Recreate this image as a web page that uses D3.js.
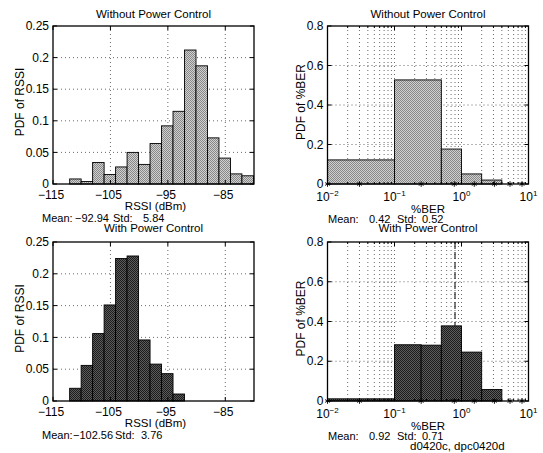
<!DOCTYPE html>
<html>
<head>
<meta charset="utf-8">
<title>RSSI and BER histograms</title>
<script src="https://cdn.jsdelivr.net/npm/d3@7"></script>
<style>
  body { margin: 0; background: #fff; }
  text { font-family: "Liberation Sans", Arial, Helvetica, sans-serif; fill: #000; }
  .grid { stroke: #444; stroke-width: 0.8; stroke-dasharray: 1,3; }
</style>
</head>
<body>
<svg width="543" height="453"></svg>
<script>

// RSSI histograms: bin centres (dBm) and PDF per bin
var rssiCentres = [-111.1, -109.1, -107.1, -105.1, -103.1, -101.1, -99.1, -97.1,
                   -95.1, -93.1, -91.1, -89.1, -87.1, -85.1, -83.1, -81.1];
var rssiBinWidth = 2;
var rssiNoPC = [0.008, 0.004, 0.034, 0.015, 0.027, 0.050, 0.031, 0.064,
                0.092, 0.115, 0.212, 0.187, 0.073, 0.041, 0.016, 0.013];
var rssiPC = [0.020, 0.056, 0.106, 0.151, 0.224, 0.228, 0.096, 0.058, 0.043, 0.011];
var rssiXTicks = [-115, -105, -95, -85];
var rssiYTicks = [0, 0.05, 0.1, 0.15, 0.2, 0.25];

// %BER histograms: bin edges (log x) and PDF per bin
var berEdgesNoPC = [0.01, 0.1, 0.5, 1, 2, 4];
var berNoPC = [0.122, 0.527, 0.177, 0.051, 0.020];
var berEdgesPC = [0.01, 0.1, 0.25, 0.5, 1, 2, 4];
var berPC = [0.011, 0.283, 0.281, 0.378, 0.246, 0.058];
var berStars = [0.01, 0.03, 0.25, 0.78, 1.55, 3.1, 5.3, 8];
var berXTicks = [-2, -1, 0, 1];          // exponents of 10
var berYTicks = [0, 0.2, 0.4, 0.6, 0.8];
var berMarkPC = 0.8;                       // dashed marker line, with PC

var titles = ["Without Power Control", "With Power Control"];
var rssiStats = [["\u221292.94", "5.84"], ["\u2212102.56", "3.76"]];
var berStats = [["0.42", "0.52"], ["0.92", "0.71"]];
var fileNote = "d0420c, dpc0420d";

var svg = d3.select("svg");
var defs = svg.append("defs");

function stipple(id, base, dot) {
  var p = defs.append("pattern").attr("id", id)
      .attr("width", 2).attr("height", 2).attr("patternUnits", "userSpaceOnUse");
  p.append("rect").attr("width", 2).attr("height", 2).attr("fill", base);
  p.append("rect").attr("width", 1).attr("height", 1).attr("fill", dot);
  p.append("rect").attr("x", 1).attr("y", 1).attr("width", 1).attr("height", 1).attr("fill", dot);
}
stipple("light", "#d0d0d0", "#888888");
stipple("dark", "#5c5c5c", "#1c1c1c");

var LX = [53, 254], RX = [327.5, 528.5];
var rows = [[26, 184], [242, 401]];
var fills = ["url(#light)", "url(#dark)"];

function frame(g, xr, yr) {
  g.append("rect")
      .attr("x", xr[0]).attr("y", yr[0])
      .attr("width", xr[1] - xr[0]).attr("height", yr[1] - yr[0])
      .attr("fill", "none").attr("stroke", "#000").attr("stroke-width", 1.3);
}

function yAxis(g, y, ticks, xr, fmt) {
  g.selectAll(".ytl").data(ticks).enter().append("text")
      .attr("x", xr[0] - 4).attr("y", function(d) { return y(d); })
      .attr("dy", "0.35em").attr("text-anchor", "end")
      .style("font-size", "12px").text(fmt);
  [xr[0], xr[1]].forEach(function(x0, k) {
    g.selectAll(null).data(ticks).enter().append("line")
        .attr("x1", x0).attr("x2", x0 + (k ? -4 : 4))
        .attr("y1", function(d) { return y(d); }).attr("y2", function(d) { return y(d); })
        .attr("stroke", "#000");
  });
}

function labels(g, xr, yr, ylab, ycx, title) {
  var cx = (xr[0] + xr[1]) / 2;
  g.append("text").attr("x", cx).attr("y", yr[0] - (yr[0] > 100 ? 10 : 8))
      .attr("text-anchor", "middle").style("font-size", "11.5px").text(title);
  g.append("text")
      .attr("transform", "translate(" + ycx + "," + ((yr[0] + yr[1]) / 2 - 3) + ") rotate(-90)")
      .attr("text-anchor", "middle").style("font-size", "12px").text(ylab);
}

function stats(g, x, yb, parts, offs) {
  var t = g.append("text").attr("y", yb).style("font-size", "11px");
  ["Mean:", parts[0], "Std:", parts[1]].forEach(function(s, i) {
    t.append("tspan").attr("x", x + offs[i]).text(s);
  });
}

var rssiStatOffs = [[0, 33, 71, 101], [0, 31, 73, 99]];

// ---------- RSSI panels ----------
[rssiNoPC, rssiPC].forEach(function(vals, r) {
  var yr = rows[r];
  var g = svg.append("g");
  var x = d3.scaleLinear().domain([-115, -80]).range(LX);
  var y = d3.scaleLinear().domain([0, 0.25]).range([yr[1], yr[0]]);

  g.selectAll(".vg").data(rssiXTicks.slice(1)).enter().append("line").attr("class", "grid")
      .attr("x1", x).attr("x2", x).attr("y1", yr[0]).attr("y2", yr[1]);
  g.selectAll(".hg").data(rssiYTicks.slice(1, -1)).enter().append("line").attr("class", "grid")
      .attr("x1", LX[0]).attr("x2", LX[1]).attr("y1", y).attr("y2", y);

  g.selectAll(".bar").data(vals).enter().append("rect")
      .attr("x", function(d, i) { return x(rssiCentres[i] - rssiBinWidth / 2); })
      .attr("width", function(d, i) { return x(rssiCentres[i] + rssiBinWidth / 2) - x(rssiCentres[i] - rssiBinWidth / 2); })
      .attr("y", y)
      .attr("height", function(d) { return y(0) - y(d); })
      .attr("fill", fills[r]).attr("stroke", "#000").attr("stroke-width", 0.9);

  frame(g, LX, yr);

  // x ticks (inward, top and bottom) and labels
  [yr[1], yr[0]].forEach(function(y0, k) {
    g.selectAll(null).data(rssiXTicks).enter().append("line")
        .attr("x1", x).attr("x2", x).attr("y1", y0).attr("y2", y0 + (k ? 4 : -4))
        .attr("stroke", "#000");
  });
  g.selectAll(".xtl").data(rssiXTicks).enter().append("text")
      .attr("x", function(d) { return x(d) - 2; }).attr("y", yr[1] + 15)
      .attr("text-anchor", "middle").style("font-size", "12px")
      .text(d3.format("d"));

  yAxis(g, y, rssiYTicks, LX, d3.format("~g"));
  labels(g, LX, yr, "PDF of RSSI", 24, titles[r]);

  g.append("text").attr("x", (LX[0] + LX[1]) / 2 + 2).attr("y", yr[1] + 26)
      .attr("text-anchor", "middle").style("font-size", "11.5px").text("RSSI (dBm)");
  stats(g, 42, yr[1] + 38, rssiStats[r], rssiStatOffs[r]);
});

// ---------- %BER panels ----------
[[berEdgesNoPC, berNoPC], [berEdgesPC, berPC]].forEach(function(set, r) {
  var edges = set[0], vals = set[1];
  var yr = rows[r];
  var g = svg.append("g");
  var x = d3.scaleLog().domain([0.01, 10]).range(RX);
  var y = d3.scaleLinear().domain([0, 0.8]).range([yr[1], yr[0]]);

  var minor = [];
  [-2, -1, 0].forEach(function(e) {
    for (var m = 1; m <= 9; m++) minor.push(m * Math.pow(10, e));
  });
  g.selectAll(".vg").data(minor.slice(1)).enter().append("line").attr("class", "grid")
      .attr("x1", x).attr("x2", x).attr("y1", yr[0]).attr("y2", yr[1]);
  g.selectAll(".hg").data(berYTicks.slice(1, -1)).enter().append("line").attr("class", "grid")
      .attr("x1", RX[0]).attr("x2", RX[1]).attr("y1", y).attr("y2", y);

  g.selectAll(".bar").data(vals).enter().append("rect")
      .attr("x", function(d, i) { return x(edges[i]); })
      .attr("width", function(d, i) { return x(edges[i + 1]) - x(edges[i]); })
      .attr("y", y)
      .attr("height", function(d) { return y(0) - y(d); })
      .attr("fill", fills[r]).attr("stroke", "#000").attr("stroke-width", 0.9);

  if (r === 1) {
    g.append("line")
        .attr("x1", x(berMarkPC)).attr("x2", x(berMarkPC))
        .attr("y1", y(0.8)).attr("y2", y(vals[3]))
        .attr("stroke", "#000").attr("stroke-width", 1).attr("stroke-dasharray", "7,3");
  }

  frame(g, RX, yr);

  // star markers along the zero line
  g.selectAll(".star").data(berStars).enter().append("path")
      .attr("transform", function(d) { return "translate(" + x(d) + "," + y(0) + ")"; })
      .attr("d", d3.symbol().type(d3.symbolAsterisk).size(22))
      .attr("fill", "none").attr("stroke", "#000").attr("stroke-width", 0.9);

  [yr[1], yr[0]].forEach(function(y0, k) {
    g.selectAll(null).data(minor.slice(1)).enter().append("line")
        .attr("x1", x).attr("x2", x).attr("y1", y0)
        .attr("y2", function(d) { var big = Math.abs(Math.log10(d) % 1) < 1e-9; return y0 + (k ? 1 : -1) * (big ? 4 : 2); })
        .attr("stroke", "#000");
  });

  var tl = g.selectAll(".xtl").data(berXTicks).enter().append("text")
      .attr("x", function(d) { return x(Math.pow(10, d)); }).attr("y", yr[1] + 17)
      .attr("text-anchor", "middle").style("font-size", "12px");
  tl.append("tspan").text("10");
  tl.append("tspan").attr("dy", -5).style("font-size", "8px")
      .text(function(d) { return d < 0 ? "\u2212" + (-d) : d; });

  yAxis(g, y, berYTicks, RX, d3.format("~g"));
  labels(g, RX, yr, "PDF of %BER", 305, titles[r]);

  g.append("text").attr("x", (RX[0] + RX[1]) / 2).attr("y", yr[1] + 29)
      .attr("text-anchor", "middle").style("font-size", "11.5px").text("%BER");
  stats(g, 328, yr[1] + 39, berStats[r], [0, 41, 69, 94]);

  if (r === 1) {
    g.append("text").attr("x", 410).attr("y", yr[1] + 49)
        .style("font-size", "11.5px").text(fileNote);
  }
});

</script>
</body>
</html>
